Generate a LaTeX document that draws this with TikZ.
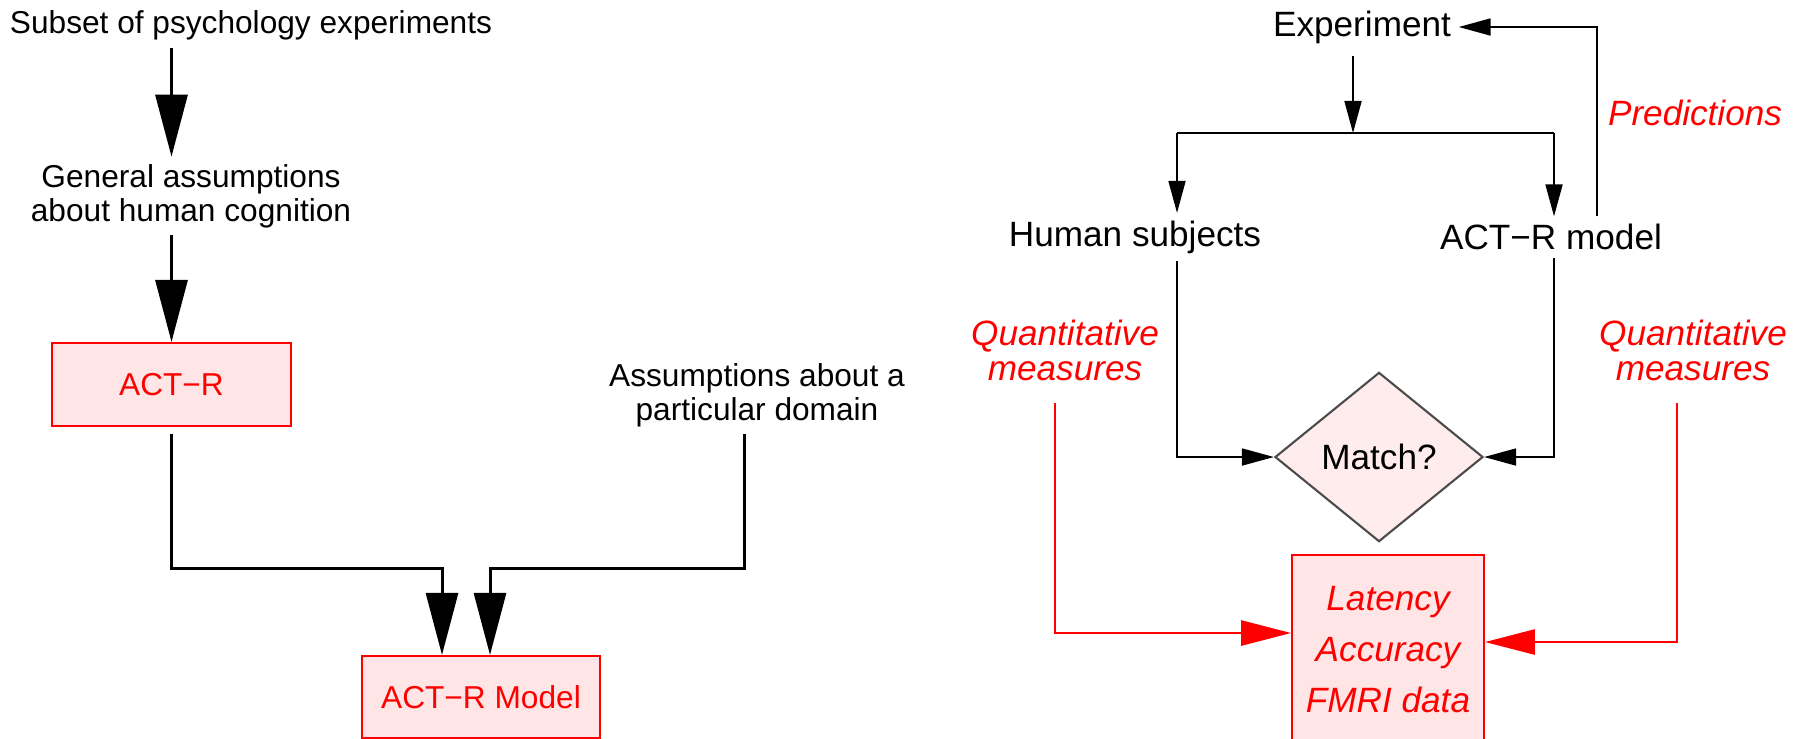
\documentclass[tikz,border=0pt]{standalone}
\usepackage{fontspec}
\setmainfont{Liberation Sans}
\usetikzlibrary{arrows.meta,shapes.geometric}

\begin{document}
\begin{tikzpicture}[x=0.01cm,y=-0.01cm,
        lt/.style={font=\fontsize{9}{9.6}\selectfont, align=center, inner sep=2pt},
        rt/.style={font=\fontsize{10}{10}\selectfont, align=center, inner sep=2pt},
        rl/.style={rt, text=red, font=\fontsize{10}{10}\selectfont\itshape},
        rbox/.style={draw=red, fill=red!10, line width=0.6pt, text=red},
        bigarr/.style={line width=0.85pt, -{Triangle[length=0.62cm,width=0.32cm]}},
        smarr/.style={line width=0.5pt, -{Triangle[length=0.32cm,width=0.17cm]}},
        redarr/.style={red, line width=0.8pt, -{Triangle[length=0.5cm,width=0.25cm]}}]
    \useasboundingbox (0,0) rectangle (1807,738);

    % left: how a model is built
    \node[lt] (subset) at (251,25) {Subset of psychology experiments};
    \node[lt] (general) at (191,196) {General assumptions\\about human cognition};
    \node[lt, rbox, minimum width=2.39cm, minimum height=0.83cm] (actr) at (171.5,384.5) {ACT−R};
    \node[lt] (domain) at (757,395) {Assumptions about a\\particular domain};
    \node[lt, rbox, minimum width=2.38cm, minimum height=0.82cm] (model) at (481,697) {ACT−R Model};

    \coordinate (jl) at (442,568);
    \coordinate (jr) at (490,568);
    \coordinate (dx) at (744,0);

    \draw[bigarr] (subset.south -| actr) -- (general.north -| actr);
    \draw[bigarr] (general.south -| actr) -- (actr.north);
    \draw[bigarr, shorten <=0.07cm] (actr.south) |- (jl) -- (jl |- model.north);
    \draw[bigarr] (domain.south -| dx) |- (jr) -- (jr |- model.north);

    % right: testing the model
    \node[rt] (exper) at (1362,27) {Experiment};
    \node[rl] (pred) at (1695,113) {Predictions};
    \node[rt] (human) at (1135,237) {Human subjects};
    \node[rt] (actrm) at (1551,237) {ACT−R model};
    \node[rl] (qleft) at (1065,350) {Quantitative\\measures};
    \node[rl] (qright) at (1693,350) {Quantitative\\measures};
    \node[rt, diamond, draw=black!70, fill=red!7, line width=0.6pt,
          minimum width=2.08cm, minimum height=1.4cm] (match) at (1379,457) {Match?};
    \node[rbox, font=\fontsize{10}{14.5}\selectfont\itshape, align=center,
          line width=0.5pt, minimum width=1.92cm, minimum height=1.9cm] (data) at (1388,650)
          {Latency\\Accuracy\\FMRI data};

    \coordinate (split) at (1353,133);
    \coordinate (hx) at (1177,133);
    \coordinate (mx) at (1554,133);
    \coordinate (fb) at (1597,0);
    \coordinate (la) at (1055,633);
    \coordinate (ra) at (1677,642);

    \draw[smarr, shorten <=0.05cm] (exper.south -| split) -- (split);
    \draw[line width=0.5pt] (hx) -- (mx);
    \draw[smarr] (hx) -- (hx |- human.north);
    \draw[smarr] (mx) -- (mx |- actrm.north);
    \draw[smarr] (actrm.north -| fb) |- (exper.east);
    \draw[smarr] (hx |- human.south) |- (match.west);
    \draw[smarr] (mx |- actrm.south) |- (match.east);
    \draw[redarr, shorten <=0.15cm] (qleft.south -| la) |- (la -| data.west);
    \draw[redarr, shorten <=0.15cm] (qright.south -| ra) |- (ra -| data.east);
\end{tikzpicture}
\end{document}
